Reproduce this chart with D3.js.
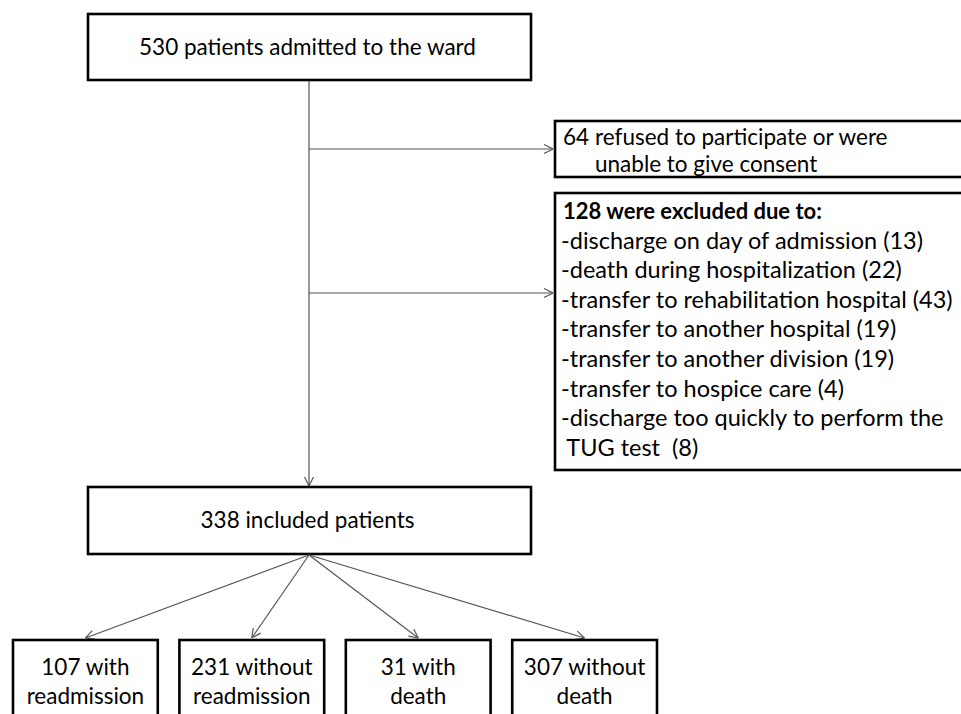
<!DOCTYPE html>
<html>
<head>
<meta charset="utf-8">
<script src="https://cdn.jsdelivr.net/npm/d3@7"></script>
<style>
  body { margin: 0; background: #fff; }
  svg { display: block; }
</style>
</head>
<body>
<div id="chart"></div>
<script>
// flow counts and labels
var topLabel = '530 patients admitted to the ward';
var refusedLines = ['refused to participate or were', 'unable to give consent'];
var refusedCount = '64';
var excludedTitle = '128 were excluded due to:';
var excludedLines = [
	'-discharge on day of admission (13)',
	'-death during hospitalization (22)',
	'-transfer to rehabilitation hospital (43)',
	'-transfer to another hospital (19)',
	'-transfer to another division (19)',
	'-transfer to hospice care (4)',
	'-discharge too quickly to perform the',
	' TUG test  (8)'
];
var includedLabel = '338 included patients';
var outcomes = [
	['107 with', 'readmission'],
	['231 without', 'readmission'],
	['31 with', 'death'],
	['307 without', 'death']
];

var width = 961, height = 714;
var font = 'Lato, "Open Sans", sans-serif';
var fs = 22.5;

var svg = d3.select('#chart').append('svg')
	.attr('width', width).attr('height', height);

var defs = svg.append('defs');
defs.append('marker')
	.attr('id', 'arr')
	.attr('viewBox', '0 0 10 10')
	.attr('refX', 10).attr('refY', 5)
	.attr('markerWidth', 10).attr('markerHeight', 10)
	.attr('markerUnits', 'userSpaceOnUse')
	.attr('orient', 'auto')
	.append('path')
	.attr('d', 'M1,0.5 L10,5 L1,9.5')
	.attr('fill', 'none')
	.attr('stroke', '#555')
	.attr('stroke-width', 1.2);

var mainX = 309;
var topBox = {x: 88, y: 14, w: 443, h: 66};
var incBox = {x: 88, y: 487, w: 443, h: 67};
var refBox = {x: 555, y: 121, w: 420, h: 56};
var excBox = {x: 555, y: 193, w: 420, h: 277};

function box(b){
	svg.append('rect')
		.attr('x', b.x).attr('y', b.y)
		.attr('width', b.w).attr('height', b.h)
		.attr('fill', '#fff')
		.attr('stroke', '#000')
		.attr('stroke-width', 2.6);
}

function arrow(x1, y1, x2, y2){
	svg.append('line')
		.attr('x1', x1).attr('y1', y1)
		.attr('x2', x2).attr('y2', y2)
		.attr('stroke', '#555')
		.attr('stroke-width', 1.2)
		.attr('marker-end', 'url(#arr)');
}

// connectors
arrow(mainX, topBox.y + topBox.h, mainX, incBox.y - 1);
arrow(mainX, 149, refBox.x - 2, 149);
arrow(mainX, 293, excBox.x - 2, 293);

box(topBox);
box(incBox);
box(refBox);
box(excBox);

svg.append('text')
	.attr('x', topBox.x + topBox.w / 2 - 2)
	.attr('y', topBox.y + topBox.h / 2)
	.attr('dy', '0.35em')
	.attr('text-anchor', 'middle')
	.style('font-family', font).style('font-size', fs + 'px')
	.text(topLabel);

svg.append('text')
	.attr('x', incBox.x + incBox.w / 2 - 2)
	.attr('y', incBox.y + incBox.h / 2)
	.attr('dy', '0.35em')
	.attr('text-anchor', 'middle')
	.style('font-family', font).style('font-size', fs + 'px')
	.text(includedLabel);

// refused box
svg.append('text')
	.attr('x', refBox.x + 8).attr('y', refBox.y + 24)
	.style('font-family', font).style('font-size', fs + 'px')
	.text(refusedCount);
svg.selectAll('.ref').data(refusedLines).enter().append('text')
	.attr('class', 'ref')
	.attr('x', refBox.x + 40)
	.attr('y', function(d, i){ return refBox.y + 24 + i * 27; })
	.style('font-family', font).style('font-size', fs + 'px')
	.text(function(d){ return d; });

// excluded box
var lineH = 29.6;
svg.append('text')
	.attr('x', excBox.x + 8).attr('y', excBox.y + 26)
	.style('font-family', font).style('font-size', (fs - 0.5) + 'px')
	.style('font-weight', 'bold')
	.text(excludedTitle);
svg.selectAll('.exc').data(excludedLines).enter().append('text')
	.attr('class', 'exc')
	.attr('x', excBox.x + 6)
	.attr('y', function(d, i){ return excBox.y + 26 + (i + 1) * lineH; })
	.attr('xml:space', 'preserve')
	.style('white-space', 'pre')
	.style('font-family', font).style('font-size', (fs + 1) + 'px')
	.text(function(d){ return d; });

// outcome boxes
var xb = d3.scaleBand()
	.domain(d3.range(outcomes.length))
	.range([13, 657])
	.paddingInner(0.13);
var outTop = 640;

outcomes.forEach(function(d, i){
	var cx = xb(i) + xb.bandwidth() / 2;
	arrow(mainX, incBox.y + incBox.h + 1, cx, outTop - 2);
});

var og = svg.selectAll('.out').data(outcomes).enter().append('g')
	.attr('class', 'out')
	.attr('transform', function(d, i){ return 'translate(' + [xb(i), outTop] + ')'; });

og.append('rect')
	.attr('width', xb.bandwidth()).attr('height', 100)
	.attr('fill', '#fff')
	.attr('stroke', '#000')
	.attr('stroke-width', 2.6);

og.selectAll('text').data(function(d){ return d; }).enter().append('text')
	.attr('x', xb.bandwidth() / 2)
	.attr('y', function(d, i){ return 35 + i * 29; })
	.attr('text-anchor', 'middle')
	.style('font-family', font).style('font-size', fs + 'px')
	.text(function(d){ return d; });
</script>
</body>
</html>
